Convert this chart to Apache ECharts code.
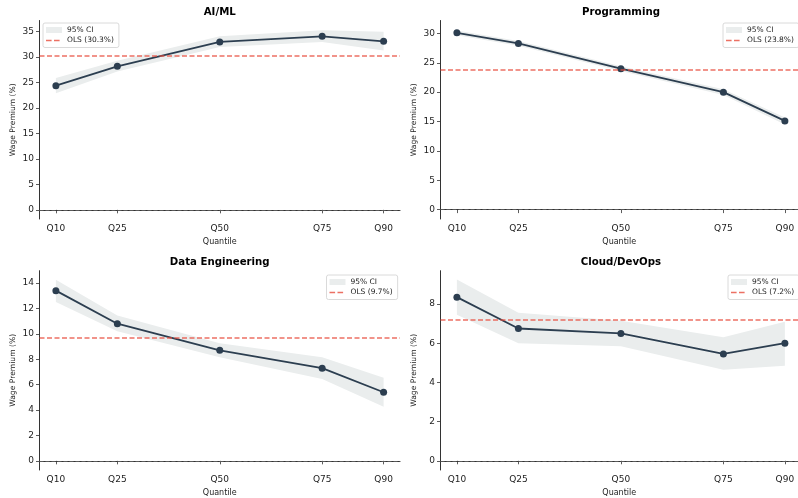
<!DOCTYPE html>
<html>
<head>
<meta charset="utf-8">
<script src="https://cdn.jsdelivr.net/npm/echarts@6/dist/echarts.min.js"></script>
<style>
  html, body { margin: 0; padding: 0; background: #fff; }
  #chart { width: 798px; height: 498px; }
</style>
</head>
<body>
<div id="chart"></div>
<script>
// quantile positions and their tick labels
const quantiles = [10, 25, 50, 75, 90];
const quantileLabels = ['Q10', 'Q25', 'Q50', 'Q75', 'Q90'];

// AI/ML
const aiCoef = [24.4, 28.2, 33.0, 34.1, 33.1];
const aiLo = [22.9, 27.2, 32.0, 33.0, 31.3];
const aiHi = [25.9, 29.3, 34.1, 35.3, 35.0];
const aiOls = 30.3;
const aiTicks = [0, 5, 10, 15, 20, 25, 30, 35];

// Programming
const progCoef = [30.1, 28.3, 24.0, 20.0, 15.1];
const progLo = [29.7, 27.9, 23.6, 19.5, 14.5];
const progHi = [30.5, 28.7, 24.4, 20.5, 15.7];
const progOls = 23.8;
const progTicks = [0, 5, 10, 15, 20, 25, 30];

// Data Engineering
const deCoef = [13.4, 10.8, 8.7, 7.3, 5.4];
const deLo = [12.5, 10.2, 8.15, 6.45, 4.25];
const deHi = [14.25, 11.45, 9.25, 8.15, 6.55];
const deOls = 9.7;
const deTicks = [0, 2, 4, 6, 8, 10, 12, 14];

// Cloud/DevOps
const cdCoef = [8.35, 6.75, 6.5, 5.45, 6.0];
const cdLo = [7.45, 6.0, 5.85, 4.65, 4.85];
const cdHi = [9.25, 7.55, 7.15, 6.3, 7.1];
const cdOls = 7.2;
const cdTicks = [0, 2, 4, 6, 8];

const font = 'DejaVu Sans';
const lineColor = '#2c3e50';
const bandColor = '#eaeded';
const olsColor = 'rgba(231,76,60,0.8)';
const zeroColor = 'rgba(128,128,128,0.5)';
const spineColor = '#333';
// two dashes, plus a hair at the far end so the icon keeps its 16px width
const dashIcon = 'path://M0,0h5.6v1.5h-5.6z M8,0h5.6v1.5h-5.6z M15.97,0.7h0.03v0.1h-0.03z';

const panels = [
  { title: 'AI/ML', coef: aiCoef, lo: aiLo, hi: aiHi, ols: aiOls, ticks: aiTicks,
    grid: { left: 39.5, top: 20.5, width: 360.5, height: 198.5 }, x: [6, 94], y: [-1.8, 37.2],
    legend: { left: 43, top: 23 } },
  { title: 'Programming', coef: progCoef, lo: progLo, hi: progHi, ols: progOls, ticks: progTicks,
    grid: { left: 440.5, top: 20.5, width: 357.5, height: 198.5 }, x: [6, 93.2], y: [-1.6, 32.2],
    legend: { left: 723, top: 23 } },
  { title: 'Data Engineering', coef: deCoef, lo: deLo, hi: deHi, ols: deOls, ticks: deTicks,
    grid: { left: 39.5, top: 270.7, width: 360.5, height: 199.3 }, x: [6, 94], y: [-0.72, 14.97],
    legend: { left: 326.5, top: 275 } },
  { title: 'Cloud/DevOps', coef: cdCoef, lo: cdLo, hi: cdHi, ols: cdOls, ticks: cdTicks,
    grid: { left: 440.5, top: 270.7, width: 357.5, height: 199.3 }, x: [6, 93.2], y: [-0.47, 9.7],
    legend: { left: 728, top: 275 } }
];

function bandRenderer(lo, hi) {
  return function (params, api) {
    if (params.dataIndex !== 0) return null;
    const pts = [];
    for (let i = 0; i < quantiles.length; i++) pts.push(api.coord([quantiles[i], hi[i]]));
    for (let i = quantiles.length - 1; i >= 0; i--) pts.push(api.coord([quantiles[i], lo[i]]));
    return { type: 'polygon', shape: { points: pts }, style: { fill: bandColor } };
  };
}

const option = {
  animation: false,
  title: [], grid: [], xAxis: [], yAxis: [], legend: [], series: []
};

panels.forEach((p, i) => {
  const g = p.grid;
  const olsName = 'OLS (' + p.ols + '%)';
  option.grid.push(g);
  option.title.push({
    text: p.title,
    left: g.left + (i % 2 === 1 ? 180.5 : g.width / 2),
    top: g.top - 13,
    textAlign: 'center',
    padding: 0,
    textStyle: { fontFamily: font, fontSize: 10.2, fontWeight: 'bold', color: '#000' }
  });
  option.xAxis.push({
    type: 'value', gridIndex: i, min: p.x[0], max: p.x[1],
    name: 'Quantile', nameLocation: 'middle', nameGap: 18.5,
    nameTextStyle: { fontFamily: font, fontSize: 8, color: '#222' },
    axisLine: { lineStyle: { color: spineColor, width: 1 } },
    axisTick: { show: true, length: 3.5, customValues: quantiles, lineStyle: { color: spineColor, width: 0.8 } },
    axisLabel: {
      customValues: quantiles, margin: 5.5, fontFamily: font, fontSize: 9, color: '#222',
      formatter: (v) => quantileLabels[quantiles.indexOf(v)]
    },
    splitLine: { show: false }
  });
  option.yAxis.push({
    type: 'value', gridIndex: i, min: p.y[0], max: p.y[1],
    name: 'Wage Premium (%)', nameLocation: 'middle', nameGap: 22,
    nameTextStyle: { fontFamily: font, fontSize: 7.6, color: '#222' },
    axisLine: { show: true, lineStyle: { color: spineColor, width: 1 } },
    axisTick: { show: true, length: 3.5, customValues: p.ticks, lineStyle: { color: spineColor, width: 0.8 } },
    axisLabel: { customValues: p.ticks, margin: 5.5, fontFamily: font, fontSize: 9, color: '#222' },
    splitLine: { show: false }
  });
  option.legend.push({
    left: p.legend.left, top: p.legend.top, orient: 'vertical',
    itemWidth: 16, itemHeight: 6, itemGap: 2.5,
    padding: [3, 5, 3, 3],
    borderColor: '#d0d0d0', borderWidth: 0.8, borderRadius: 2,
    backgroundColor: 'rgba(255,255,255,0.8)',
    textStyle: { fontFamily: font, fontSize: 7.5, color: '#222' },
    selectedMode: false,
    data: [
      { name: '95% CI', icon: 'rect', itemStyle: { color: bandColor } },
      { name: olsName, icon: dashIcon, itemStyle: { color: olsColor } }
    ]
  });
  option.series.push({
    name: '95% CI', type: 'custom', xAxisIndex: i, yAxisIndex: i,
    itemStyle: { color: bandColor },
    renderItem: bandRenderer(p.lo, p.hi),
    data: quantiles.map((q, k) => [q, p.lo[k], p.hi[k]]),
    encode: { x: 0, y: [1, 2] },
    silent: true, z: 1
  });
  // zero reference, drawn across the whole x range
  option.series.push({
    name: 'zero-' + i, type: 'line', xAxisIndex: i, yAxisIndex: i,
    data: [], symbol: 'none',
    markLine: {
      silent: true, symbol: ['none', 'none'], label: { show: false },
      lineStyle: { color: zeroColor, width: 1, type: [4, 2] },
      data: [[{ coord: [p.x[0], 0] }, { coord: [p.x[1], 0] }]]
    },
    z: 2
  });
  option.series.push({
    name: olsName, type: 'line', xAxisIndex: i, yAxisIndex: i,
    data: [], symbol: 'none', color: olsColor,
    lineStyle: { color: olsColor, width: 1.5, type: [5, 2.5] },
    markLine: {
      silent: true, symbol: ['none', 'none'], label: { show: false },
      lineStyle: { color: olsColor, width: 1.5, type: [5, 2.5] },
      data: [{ yAxis: p.ols }]
    },
    z: 2
  });
  option.series.push({
    name: 'coef-' + i, type: 'line', xAxisIndex: i, yAxisIndex: i,
    data: quantiles.map((q, k) => [q, p.coef[k]]),
    color: lineColor, symbol: 'circle', symbolSize: 7,
    lineStyle: { color: lineColor, width: 1.8 },
    itemStyle: { color: lineColor },
    z: 3
  });
});

const chart = echarts.init(document.getElementById('chart'), null, { renderer: 'canvas' });
chart.setOption(option);
</script>
</body>
</html>
